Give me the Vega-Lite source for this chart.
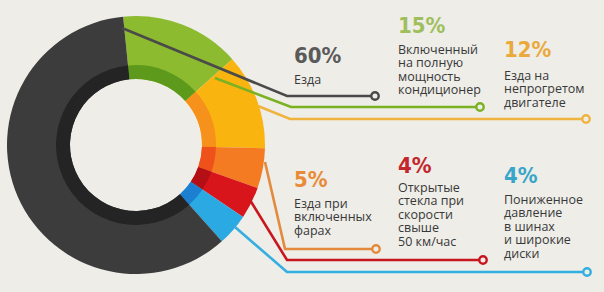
{
  "$schema": "https://vega.github.io/schema/vega-lite/v6.json",
  "width": 604,
  "height": 292,
  "autosize": {"type": "fit", "contains": "padding"},
  "padding": 0,
  "background": "#eeede8",
  "config": {"view": {"stroke": null}},
  "datasets": {
    "segments": [
      {"k": "ac", "v": 15, "o": 1},
      {"k": "cold", "v": 12, "o": 2},
      {"k": "lights", "v": 5, "o": 3},
      {"k": "windows", "v": 4, "o": 4},
      {"k": "tires", "v": 4, "o": 5},
      {"k": "driving", "v": 60, "o": 6}
    ],
    "leaders": [
      {"k": "driving", "i": 1, "x": 122, "y": 28},
      {"k": "driving", "i": 2, "x": 287, "y": 96},
      {"k": "driving", "i": 3, "x": 375, "y": 96},
      {"k": "ac", "i": 1, "x": 215, "y": 78},
      {"k": "ac", "i": 2, "x": 291, "y": 107},
      {"k": "ac", "i": 3, "x": 480, "y": 107},
      {"k": "cold", "i": 1, "x": 258, "y": 106},
      {"k": "cold", "i": 2, "x": 290, "y": 119},
      {"k": "cold", "i": 3, "x": 586, "y": 119},
      {"k": "lights", "i": 1, "x": 265, "y": 162},
      {"k": "lights", "i": 2, "x": 285, "y": 249},
      {"k": "lights", "i": 3, "x": 376, "y": 249},
      {"k": "windows", "i": 1, "x": 250, "y": 200},
      {"k": "windows", "i": 2, "x": 287, "y": 260},
      {"k": "windows", "i": 3, "x": 483, "y": 260},
      {"k": "tires", "i": 1, "x": 235, "y": 227},
      {"k": "tires", "i": 2, "x": 287, "y": 272},
      {"k": "tires", "i": 3, "x": 587, "y": 272}
    ],
    "labels": [
      {"k": "driving", "pct": "60%", "x": 294, "py": 63, "ty": 84, "txt": "Езда"},
      {"k": "ac", "pct": "15%", "x": 398, "py": 33, "ty": 54, "txt": "Включенный\nна полную\nмощность\nкондиционер"},
      {"k": "cold", "pct": "12%", "x": 504, "py": 57, "ty": 80, "txt": "Езда на\nнепрогретом\nдвигателе"},
      {"k": "lights", "pct": "5%", "x": 294, "py": 187, "ty": 208, "txt": "Езда при\nвключенных\nфарах"},
      {"k": "windows", "pct": "4%", "x": 398, "py": 173, "ty": 192, "txt": "Открытые\nстекла при\nскорости\nсвыше\n50 км/час"},
      {"k": "tires", "pct": "4%", "x": 504, "py": 183, "ty": 204, "txt": "Пониженное\nдавление\nв шинах\nи широкие\nдиски"}
    ]
  },
  "layer": [
    {
      "data": {"name": "segments"},
      "mark": {"type": "arc", "radius": 129, "radius2": 66},
      "encoding": {
        "theta": {"field": "v", "type": "quantitative", "stack": true, "scale": {"range": [-0.1, 6.1832]}},
        "order": {"field": "o", "type": "quantitative"},
        "x": {"datum": 136, "type": "quantitative", "scale": {"domain": [0, 604], "nice": false, "zero": false}, "axis": null},
        "y": {"datum": 145, "type": "quantitative", "scale": {"domain": [0, 292], "nice": false, "zero": false, "reverse": true}, "axis": null},
        "color": {"field": "k", "type": "nominal", "legend": null,
          "scale": {"domain": ["ac", "cold", "lights", "windows", "tires", "driving"],
                    "range": ["#8dbb30", "#fab40f", "#f47b22", "#d8151b", "#2aa9e2", "#3c3c3c"]}}
      }
    },
    {
      "data": {"name": "segments"},
      "mark": {"type": "arc", "radius": 80, "radius2": 66},
      "encoding": {
        "theta": {"field": "v", "type": "quantitative", "stack": true, "scale": {"range": [-0.1, 6.1832]}},
        "order": {"field": "o", "type": "quantitative"},
        "x": {"datum": 136, "type": "quantitative"},
        "y": {"datum": 145, "type": "quantitative"},
        "color": {"field": "k", "type": "nominal", "legend": null,
          "scale": {"domain": ["ac", "cold", "lights", "windows", "tires", "driving"],
                    "range": ["#5d9a1c", "#f6911c", "#ee521a", "#b30f14", "#1c7fd1", "#242424"]}}
      }
    },
    {
      "data": {"name": "leaders"},
      "mark": {"type": "line", "strokeWidth": 2.6, "interpolate": "linear"},
      "encoding": {
        "x": {"field": "x", "type": "quantitative"},
        "y": {"field": "y", "type": "quantitative"},
        "detail": {"field": "k"},
        "order": {"field": "i", "type": "quantitative"},
        "color": {"field": "k", "type": "nominal", "legend": null,
          "scale": {"domain": ["ac", "cold", "lights", "windows", "tires", "driving"],
                    "range": ["#7ab222", "#efb43e", "#e48a3c", "#c8161d", "#35aee0", "#4a4a4a"]}}
      }
    },
    {
      "data": {"name": "leaders"},
      "transform": [{"filter": "datum.i == 3"}],
      "mark": {"type": "point", "shape": "circle", "size": 55, "strokeWidth": 2.4, "filled": false, "fill": "#eeede8", "fillOpacity": 1, "opacity": 1},
      "encoding": {
        "x": {"field": "x", "type": "quantitative"},
        "y": {"field": "y", "type": "quantitative"},
        "color": {"field": "k", "type": "nominal", "legend": null,
          "scale": {"domain": ["ac", "cold", "lights", "windows", "tires", "driving"],
                    "range": ["#7ab222", "#efb43e", "#e48a3c", "#c8161d", "#35aee0", "#4a4a4a"]}}
      }
    },
    {
      "data": {"name": "labels"},
      "mark": {"type": "text", "align": "left", "baseline": "alphabetic", "font": "DejaVu Sans Condensed, DejaVu Sans, sans-serif", "fontWeight": "bold", "fontSize": 22},
      "encoding": {
        "x": {"field": "x", "type": "quantitative"},
        "y": {"field": "py", "type": "quantitative"},
        "text": {"field": "pct"},
        "color": {"field": "k", "type": "nominal", "legend": null,
          "scale": {"domain": ["ac", "cold", "lights", "windows", "tires", "driving"],
                    "range": ["#9fbf5c", "#eaa93a", "#e98a36", "#c3262c", "#37a6c9", "#5a5a5a"]}}
      }
    },
    {
      "data": {"name": "labels"},
      "mark": {"type": "text", "align": "left", "baseline": "alphabetic", "font": "Open Sans", "fontSize": 12.5, "lineBreak": "\n", "lineHeight": 13.4, "color": "#383838"},
      "encoding": {
        "x": {"field": "x", "type": "quantitative"},
        "y": {"field": "ty", "type": "quantitative"},
        "text": {"field": "txt"}
      }
    }
  ],
  "resolve": {"scale": {"color": "independent", "theta": "independent"}}
}
